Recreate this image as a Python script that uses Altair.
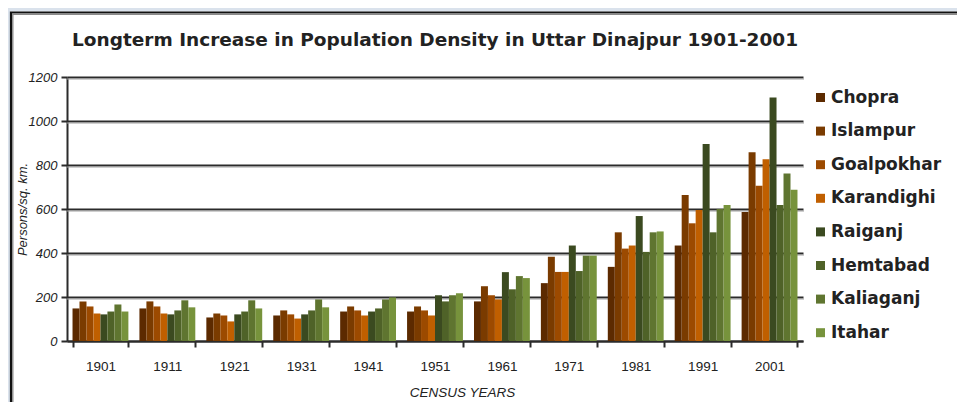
import altair as alt
import pandas as pd

years = ["1901", "1911", "1921", "1931", "1941", "1951", "1961", "1971", "1981", "1991", "2001"]
districts = ["Chopra", "Islampur", "Goalpokhar", "Karandighi", "Raiganj", "Hemtabad", "Kaliaganj", "Itahar"]
colors = ["#5c2a00", "#7a3b00", "#9c4a00", "#c05f00", "#3b4a20", "#4f6228", "#5f7530", "#77933c"]
y_ticks = [0, 200, 400, 600, 800, 1000, 1200]

chopra = [148, 148, 107, 116, 134, 134, 180, 263, 337, 434, 586]
islampur = [180, 180, 125, 139, 157, 157, 249, 383, 494, 664, 858]
goalpokhar = [157, 157, 116, 121, 139, 139, 208, 314, 420, 535, 706]
karandighi = [125, 125, 89, 102, 116, 116, 189, 314, 434, 595, 826]
raiganj = [121, 121, 121, 121, 134, 208, 313, 434, 568, 895, 1107]
hemtabad = [134, 139, 134, 139, 148, 180, 235, 318, 405, 494, 618]
kaliaganj = [166, 185, 185, 189, 189, 208, 295, 388, 494, 600, 761]
itahar = [134, 153, 148, 153, 198, 217, 286, 388, 498, 618, 687]

series = [chopra, islampur, goalpokhar, karandighi, raiganj, hemtabad, kaliaganj, itahar]
title_text = "Longterm Increase in Population  Density in Uttar Dinajpur  1901-2001"

rows = []
for d, vals in zip(districts, series):
    for y, v in zip(years, vals):
        rows.append({"Year": y, "District": d, "Density": v})
df = pd.DataFrame(rows)

one = pd.DataFrame({"a": [0]})
grid_df = pd.DataFrame({"v": y_ticks[1:]})
BLUE = "#dae2ec"

blue_left = alt.Chart(one).mark_rect(fill=BLUE).encode(
    x=alt.value(-70), x2=alt.value(-57), y=alt.value(-80), y2=alt.value(340)
)
blue_top = alt.Chart(one).mark_rect(fill=BLUE).encode(
    x=alt.value(-70), x2=alt.value(900), y=alt.value(-80), y2=alt.value(-65.5)
)
frame = alt.Chart(one).mark_rect(fillOpacity=0, stroke="#111111", strokeWidth=2.2).encode(
    x=alt.value(-56), x2=alt.value(900), y=alt.value(-64.5), y2=alt.value(340)
)
inner = alt.Chart(one).mark_rect(fillOpacity=0, stroke="#8a8a8a", strokeWidth=1.4).encode(
    x=alt.value(-54.2), x2=alt.value(900), y=alt.value(-62.7), y2=alt.value(340)
)
title = alt.Chart(one).mark_text(
    text=title_text, align="left", baseline="middle",
    font="DejaVu Sans, Verdana, sans-serif",
    fontWeight="bold", fontSize=18.5, color="#222222"
).encode(x=alt.value(5), y=alt.value(-37))

shadow = alt.Chart(grid_df).mark_rule(color="#a0a0a0", strokeWidth=1.2, yOffset=2).encode(
    y=alt.Y("v:Q"), x=alt.value(0), x2=alt.value(737)
)

bars = alt.Chart(df).mark_bar().encode(
    x=alt.X("Year:N", sort=years,
            scale=alt.Scale(paddingInner=0.165, paddingOuter=0.0825),
            axis=alt.Axis(title="CENSUS YEARS", labelAngle=0, tickBand="extent",
                          tickSize=6, labelPadding=12, labelFont="Liberation Sans",
                          labelFontSize=13.5, labelColor="#222222",
                          titleFont="Liberation Sans", titleFontSize=13.5,
                          titleFontStyle="italic", titleFontWeight="normal",
                          titleColor="#222222", titleX=395, titleY=44,
                          titleBaseline="top", titleAlign="center",
                          domainColor="#2b2b2b", domainWidth=2,
                          tickColor="#2b2b2b", tickWidth=2, grid=False)),
    xOffset=alt.XOffset("District:N", sort=districts,
                        scale=alt.Scale(paddingInner=0, paddingOuter=0)),
    y=alt.Y("Density:Q",
            scale=alt.Scale(domain=[0, 1200], nice=False),
            axis=alt.Axis(title="Persons/sq. km.", values=y_ticks, format="d",
                          tickSize=6, labelPadding=4, labelFont="Liberation Sans",
                          labelFontSize=13, labelFontStyle="italic", labelColor="#222222",
                          titleFont="Liberation Sans", titleFontSize=13,
                          titleFontStyle="italic", titleFontWeight="normal",
                          titleColor="#222222", titleX=-45, titleY=132,
                          titleBaseline="middle", titleAlign="center", titleAngle=270,
                          domainColor="#2b2b2b", domainWidth=2,
                          tickColor="#2b2b2b", tickWidth=2,
                          grid=True, gridColor="#2b2b2b", gridWidth=2)),
    color=alt.Color("District:N", sort=districts,
                    scale=alt.Scale(domain=districts, range=colors),
                    legend=alt.Legend(title=None, orient="none", legendX=745, legendY=12,
                                      symbolType="square", symbolSize=81,
                                      symbolStrokeWidth=0, rowPadding=15.6,
                                      labelOffset=2, labelFont="DejaVu Sans",
                                      labelFontWeight="bold", labelFontSize=17,
                                      labelColor="#222222", labelLimit=300)),
)

chart = alt.layer(blue_left, blue_top, frame, inner, title, shadow, bars).properties(
    width=736, height=264,
    padding={"left": 59, "top": 69, "right": 154, "bottom": 61},
    autosize=alt.AutoSizeParams(type="none"),
    background="white",
).configure_view(stroke=None)

chart.save("out.html", embed_options={"renderer": "svg", "actions": False})
